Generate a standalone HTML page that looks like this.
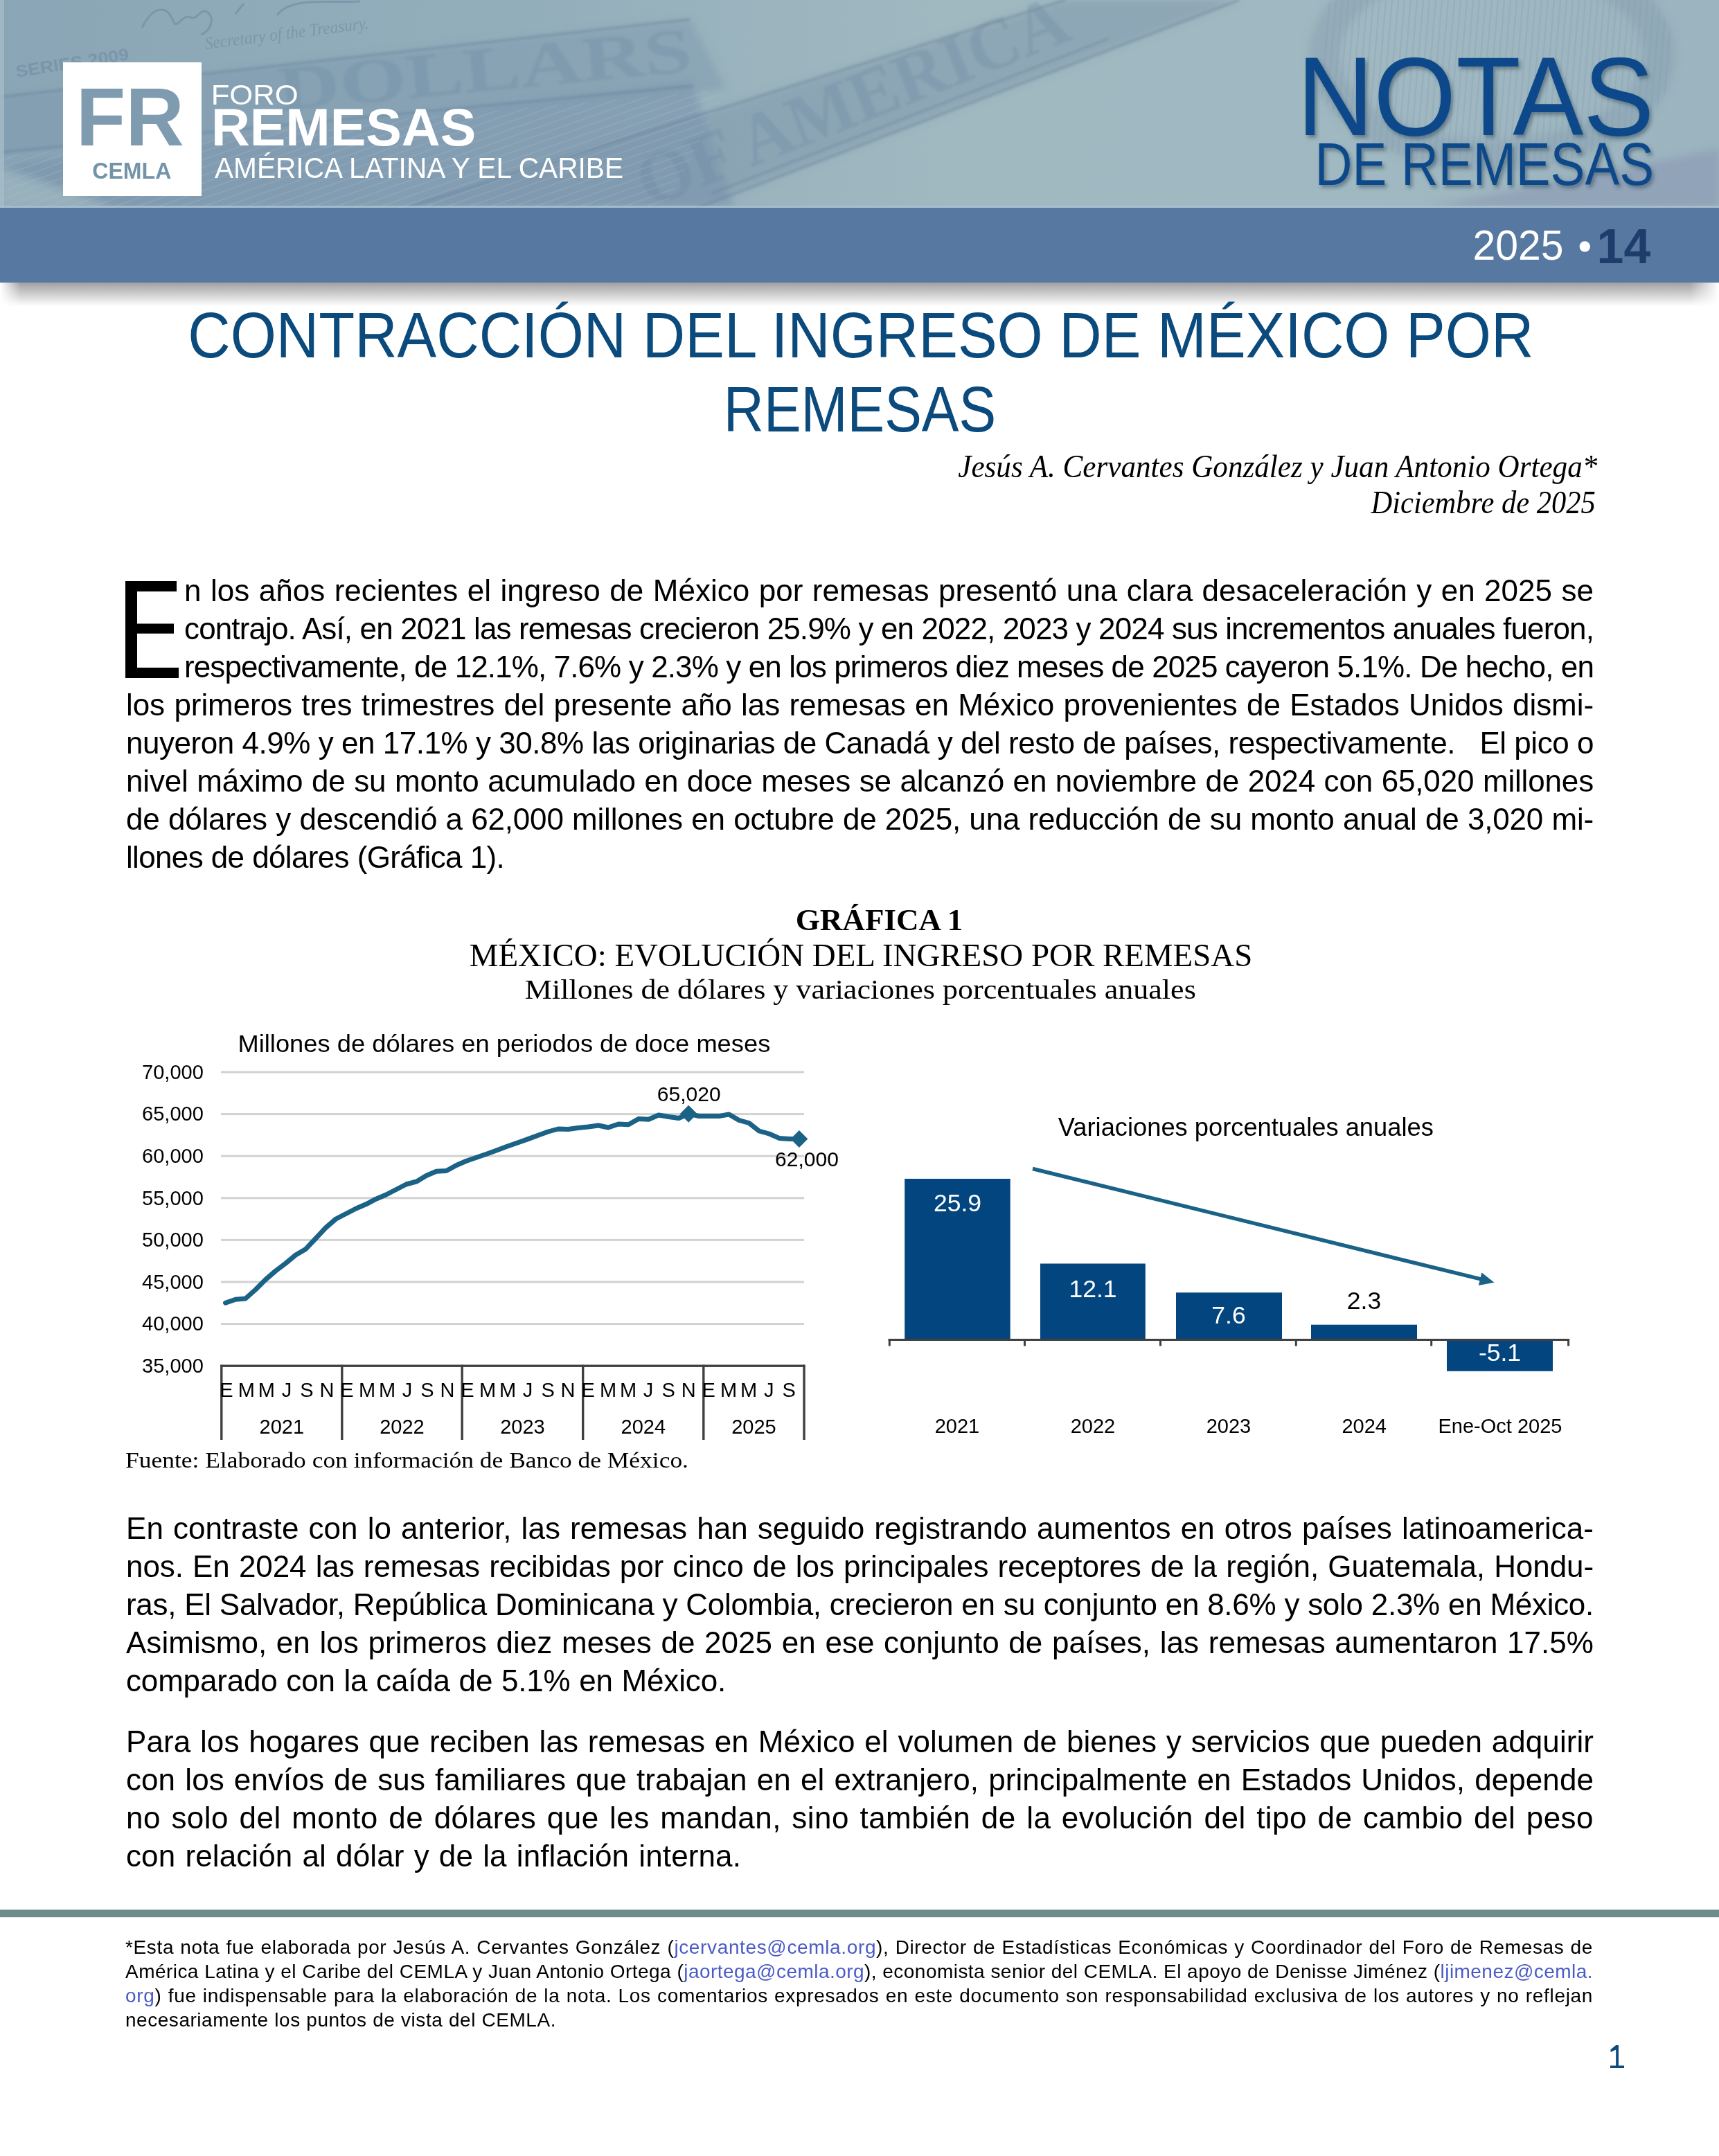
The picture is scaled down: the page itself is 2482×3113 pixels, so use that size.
<!DOCTYPE html>
<html><head><meta charset="utf-8">
<style>
html,body{margin:0;padding:0}
body{width:2482px;height:3113px;position:relative;overflow:hidden;background:#fff;font-family:"Liberation Sans",sans-serif;color:#000}
.a{position:absolute;white-space:nowrap}
.body{position:absolute;font-size:44px;line-height:54.9px;letter-spacing:-0.3px;color:#000}
.body div{text-align:justify;text-align-last:justify;white-space:nowrap;height:54.9px}
.fn{position:absolute;font-size:28px;line-height:35.1px;color:#000}
.fn div{text-align:justify;text-align-last:justify;white-space:nowrap;height:35.1px}
.lk{color:#4a5bc6}
svg text{font-family:"Liberation Sans",sans-serif}
svg text.s{font-family:"Liberation Serif",serif}
</style></head><body>

<svg class="a" style="left:0;top:0" width="2482" height="300" viewBox="0 0 2482 300">
<defs>
<linearGradient id="hg" x1="0" y1="0" x2="1" y2="0">
<stop offset="0" stop-color="#8aa6b6"/>
<stop offset="0.3" stop-color="#93aebb"/>
<stop offset="0.55" stop-color="#a0b8c0"/>
<stop offset="0.8" stop-color="#a0b8c1"/>
<stop offset="1" stop-color="#9bb4bf"/>
</linearGradient>
<filter id="bl" x="-10%" y="-10%" width="120%" height="120%"><feGaussianBlur stdDeviation="6"/></filter>
<filter id="bl2" x="-10%" y="-10%" width="120%" height="120%"><feGaussianBlur stdDeviation="1.5"/></filter>
</defs>
<rect width="2482" height="300" fill="url(#hg)"/>
<g filter="url(#bl)">
<polygon points="0,238 1000,118 1060,300 170,300" fill="#6d88a6" opacity="0.42"/>
<polygon points="0,245 160,300 0,300" fill="#a6bcc4" opacity="0.5"/>
<polygon points="0,140 996,28 1049,129 0,225" fill="#7d97ad" opacity="0.45"/>
<polygon points="586,300 1538,0 1789,0 1007,300" fill="#7b95ab" opacity="0.5"/>
<ellipse cx="2154" cy="80" rx="242" ry="144" fill="none" stroke="#849db0" stroke-width="44" opacity="0.45"/>
<polygon points="2060,300 2482,215 2482,300" fill="#8995b3" opacity="0.55"/>
</g>
<g filter="url(#bl2)" opacity="0.3">
<line x1="0" y1="140" x2="996" y2="28" stroke="#5f7a96" stroke-width="4"/>
<line x1="0" y1="220" x2="1000" y2="124" stroke="#5f7a96" stroke-width="4"/>
<line x1="586" y1="300" x2="1538" y2="0" stroke="#5f7a96" stroke-width="4"/>
<line x1="1007" y1="300" x2="1789" y2="0" stroke="#5f7a96" stroke-width="4"/>
<line x1="1028" y1="279" x2="1600" y2="56" stroke="#5f7a96" stroke-width="3"/>
</g>
<g opacity="0.45">
<path d="M205 40 C220 10 240 5 250 30 C255 45 262 20 275 25 C285 30 290 10 300 18 C310 25 305 45 290 50 M340 20 L352 5 M400 22 C420 -5 470 5 520 2" fill="none" stroke="#66819a" stroke-width="3"/>
<text x="297" y="71" style="font-family:'Liberation Serif',serif;font-style:italic" font-size="25" fill="#66819a" textLength="238" lengthAdjust="spacingAndGlyphs" transform="rotate(-7.2 297 71)">Secretary of the Treasury.</text>
<text x="24" y="112" style="font-family:'Liberation Sans',sans-serif" font-weight="bold" font-size="23" fill="#66819a" textLength="165" lengthAdjust="spacingAndGlyphs" transform="rotate(-9 24 112)">SERIES 2009</text>
</g>
<g opacity="0.28" filter="url(#bl2)">
<text x="937" y="300" style="font-family:'Liberation Serif',serif" font-weight="bold" font-size="105" fill="#6a86a0" textLength="660" lengthAdjust="spacingAndGlyphs" transform="rotate(-21.7 937 300)">OF AMERICA</text>
<text x="404" y="160" style="font-family:'Liberation Serif',serif" font-weight="bold" font-size="90" fill="#6a86a0" textLength="600" lengthAdjust="spacingAndGlyphs" transform="rotate(-5.5 404 160)">DOLLARS</text>
</g>
<clipPath id="rails"><polygon points="0,225 1049,129 960,300 0,300"/></clipPath>
<g clip-path="url(#rails)" stroke="#b5c8d6" stroke-width="2" opacity="0.18">
<line x1="-320" y1="300" x2="530" y2="0" />
<line x1="-288" y1="300" x2="562" y2="0" />
<line x1="-256" y1="300" x2="594" y2="0" />
<line x1="-224" y1="300" x2="626" y2="0" />
<line x1="-192" y1="300" x2="658" y2="0" />
<line x1="-160" y1="300" x2="690" y2="0" />
<line x1="-128" y1="300" x2="722" y2="0" />
<line x1="-96" y1="300" x2="754" y2="0" />
<line x1="-64" y1="300" x2="786" y2="0" />
<line x1="-32" y1="300" x2="818" y2="0" />
<line x1="0" y1="300" x2="850" y2="0" />
<line x1="32" y1="300" x2="882" y2="0" />
<line x1="64" y1="300" x2="914" y2="0" />
<line x1="96" y1="300" x2="946" y2="0" />
<line x1="128" y1="300" x2="978" y2="0" />
<line x1="160" y1="300" x2="1010" y2="0" />
<line x1="192" y1="300" x2="1042" y2="0" />
<line x1="224" y1="300" x2="1074" y2="0" />
<line x1="256" y1="300" x2="1106" y2="0" />
<line x1="288" y1="300" x2="1138" y2="0" />
<line x1="320" y1="300" x2="1170" y2="0" />
<line x1="352" y1="300" x2="1202" y2="0" />
<line x1="384" y1="300" x2="1234" y2="0" />
<line x1="416" y1="300" x2="1266" y2="0" />
<line x1="448" y1="300" x2="1298" y2="0" />
<line x1="480" y1="300" x2="1330" y2="0" />
<line x1="512" y1="300" x2="1362" y2="0" />
<line x1="544" y1="300" x2="1394" y2="0" />
<line x1="576" y1="300" x2="1426" y2="0" />
<line x1="608" y1="300" x2="1458" y2="0" />
<line x1="640" y1="300" x2="1490" y2="0" />
<line x1="672" y1="300" x2="1522" y2="0" />
<line x1="704" y1="300" x2="1554" y2="0" />
<line x1="736" y1="300" x2="1586" y2="0" />
<line x1="768" y1="300" x2="1618" y2="0" />
<line x1="800" y1="300" x2="1650" y2="0" />
<line x1="832" y1="300" x2="1682" y2="0" />
<line x1="864" y1="300" x2="1714" y2="0" />
<line x1="896" y1="300" x2="1746" y2="0" />
<line x1="928" y1="300" x2="1778" y2="0" />
<line x1="960" y1="300" x2="1810" y2="0" />
<line x1="992" y1="300" x2="1842" y2="0" />
<line x1="1024" y1="300" x2="1874" y2="0" />
<line x1="1056" y1="300" x2="1906" y2="0" />
<line x1="1088" y1="300" x2="1938" y2="0" />
<line x1="1120" y1="300" x2="1970" y2="0" />
<line x1="1152" y1="300" x2="2002" y2="0" />
<line x1="1184" y1="300" x2="2034" y2="0" />
<line x1="1216" y1="300" x2="2066" y2="0" />
<line x1="1248" y1="300" x2="2098" y2="0" />
</g>
<clipPath id="ring"><ellipse cx="2154" cy="80" rx="264" ry="166"/></clipPath>
<g stroke="#7f98ae" stroke-width="2.5" opacity="0.22" clip-path="url(#ring)">
<line x1="1920" y1="0" x2="1895" y2="300"/>
<line x1="1929" y1="0" x2="1904" y2="300"/>
<line x1="1938" y1="0" x2="1913" y2="300"/>
<line x1="1947" y1="0" x2="1922" y2="300"/>
<line x1="1956" y1="0" x2="1931" y2="300"/>
<line x1="1965" y1="0" x2="1940" y2="300"/>
<line x1="1974" y1="0" x2="1949" y2="300"/>
<line x1="1983" y1="0" x2="1958" y2="300"/>
<line x1="1992" y1="0" x2="1967" y2="300"/>
<line x1="2001" y1="0" x2="1976" y2="300"/>
<line x1="2010" y1="0" x2="1985" y2="300"/>
<line x1="2019" y1="0" x2="1994" y2="300"/>
<line x1="2028" y1="0" x2="2003" y2="300"/>
<line x1="2037" y1="0" x2="2012" y2="300"/>
<line x1="2046" y1="0" x2="2021" y2="300"/>
<line x1="2055" y1="0" x2="2030" y2="300"/>
<line x1="2064" y1="0" x2="2039" y2="300"/>
<line x1="2073" y1="0" x2="2048" y2="300"/>
<line x1="2082" y1="0" x2="2057" y2="300"/>
<line x1="2091" y1="0" x2="2066" y2="300"/>
<line x1="2100" y1="0" x2="2075" y2="300"/>
<line x1="2109" y1="0" x2="2084" y2="300"/>
<line x1="2118" y1="0" x2="2093" y2="300"/>
<line x1="2127" y1="0" x2="2102" y2="300"/>
<line x1="2136" y1="0" x2="2111" y2="300"/>
<line x1="2145" y1="0" x2="2120" y2="300"/>
<line x1="2154" y1="0" x2="2129" y2="300"/>
<line x1="2163" y1="0" x2="2138" y2="300"/>
<line x1="2172" y1="0" x2="2147" y2="300"/>
<line x1="2181" y1="0" x2="2156" y2="300"/>
<line x1="2190" y1="0" x2="2165" y2="300"/>
<line x1="2199" y1="0" x2="2174" y2="300"/>
<line x1="2208" y1="0" x2="2183" y2="300"/>
<line x1="2217" y1="0" x2="2192" y2="300"/>
<line x1="2226" y1="0" x2="2201" y2="300"/>
<line x1="2235" y1="0" x2="2210" y2="300"/>
<line x1="2244" y1="0" x2="2219" y2="300"/>
<line x1="2253" y1="0" x2="2228" y2="300"/>
<line x1="2262" y1="0" x2="2237" y2="300"/>
<line x1="2271" y1="0" x2="2246" y2="300"/>
<line x1="2280" y1="0" x2="2255" y2="300"/>
<line x1="2289" y1="0" x2="2264" y2="300"/>
<line x1="2298" y1="0" x2="2273" y2="300"/>
<line x1="2307" y1="0" x2="2282" y2="300"/>
<line x1="2316" y1="0" x2="2291" y2="300"/>
<line x1="2325" y1="0" x2="2300" y2="300"/>
<line x1="2334" y1="0" x2="2309" y2="300"/>
<line x1="2343" y1="0" x2="2318" y2="300"/>
<line x1="2352" y1="0" x2="2327" y2="300"/>
<line x1="2361" y1="0" x2="2336" y2="300"/>
<line x1="2370" y1="0" x2="2345" y2="300"/>
<line x1="2379" y1="0" x2="2354" y2="300"/>
<line x1="2388" y1="0" x2="2363" y2="300"/>
<line x1="2397" y1="0" x2="2372" y2="300"/>
<line x1="2406" y1="0" x2="2381" y2="300"/>
<line x1="2415" y1="0" x2="2390" y2="300"/>
</g>
<rect x="0" y="0" width="6" height="300" fill="#a9bfcc" opacity="0.7"/>
</svg>

<div class="a" style="left:0;top:300px;width:2482px;height:108px;background:#5779a1"></div>
<div class="a" style="left:0;top:408px;width:2482px;height:34px;background:linear-gradient(rgba(150,150,150,0.9),rgba(255,255,255,0))"></div>
<div class="a" style="left:0;top:408px;width:30px;height:34px;background:linear-gradient(90deg,#fff,rgba(255,255,255,0))"></div>
<div class="a" style="left:0;top:297px;width:2482px;height:3px;background:#a9c1d1;opacity:0.8"></div>
<div class="a" style="left:2440px;top:408px;width:42px;height:34px;background:linear-gradient(90deg,rgba(255,255,255,0),#fff)"></div>
<div class="a" style="left:91px;top:90px;width:200px;height:193px;background:#fff"></div>
<svg class="a" style="left:0;top:0" width="2482" height="3113" viewBox="0 0 2482 3113">
<defs><filter id="sh" x="-5%" y="-5%" width="110%" height="120%"><feDropShadow dx="3" dy="4" stdDeviation="2.5" flood-color="#27384a" flood-opacity="0.45"/></filter></defs>
<text x="109.7" y="210.0" font-size="118.0" fill="#7f9bb0" textLength="156.0" lengthAdjust="spacingAndGlyphs" font-weight="bold">FR</text>
<text x="133.3" y="258.0" font-size="33.4" fill="#7393a8" textLength="114.0" lengthAdjust="spacingAndGlyphs" font-weight="bold">CEMLA</text>
<text x="304.7" y="150.5" font-size="41.4" fill="#fff" textLength="126.0" lengthAdjust="spacingAndGlyphs">FORO</text>
<text x="304.9" y="210.0" font-size="75.6" fill="#fff" textLength="382.4" lengthAdjust="spacingAndGlyphs" font-weight="bold">REMESAS</text>
<text x="310.0" y="257.0" font-size="42.0" fill="#fff" textLength="590.0" lengthAdjust="spacingAndGlyphs">AMÉRICA LATINA Y EL CARIBE</text>
<g filter="url(#sh)">
<text x="1872.8" y="195.0" font-size="161.0" fill="#0e4a8a" textLength="515.6" lengthAdjust="spacingAndGlyphs">NOTAS</text>
<text x="1898.5" y="266.8" font-size="87.0" fill="#0e4a8a" textLength="489.5" lengthAdjust="spacingAndGlyphs">DE REMESAS</text>
</g>
<text x="2126.6" y="375.4" font-size="60.7" fill="#fff" textLength="131.0" lengthAdjust="spacingAndGlyphs">2025</text>
<circle cx="2288.3" cy="356" r="7.7" fill="#fff"/>
<text x="2305.6" y="380.0" font-size="70.0" fill="#1e3d6b" textLength="77.8" lengthAdjust="spacingAndGlyphs" font-weight="bold">14</text>
<text x="271.3" y="515.8" font-size="93.0" fill="#0b4a7c" textLength="1943.0" lengthAdjust="spacingAndGlyphs">CONTRACCIÓN DEL INGRESO DE MÉXICO POR</text>
<text x="1044.8" y="623.0" font-size="93.0" fill="#0b4a7c" textLength="393.3" lengthAdjust="spacingAndGlyphs">REMESAS</text>
<text x="1383.3" y="689.3" font-size="46.0" fill="#000" textLength="923.0" lengthAdjust="spacingAndGlyphs" class="s" font-style="italic">Jesús A. Cervantes González y Juan Antonio Ortega*</text>
<text x="1979.5" y="740.7" font-size="46.0" fill="#000" textLength="324.4" lengthAdjust="spacingAndGlyphs" class="s" font-style="italic">Diciembre de 2025</text>
<path d="M181 839H255V854H198V900.4H251V914.7H198V964H258V979H181Z" fill="#000"/>
<text x="1148.8" y="1342.8" font-size="45.0" fill="#000" textLength="241.5" lengthAdjust="spacingAndGlyphs" font-weight="bold" class="s">GRÁFICA 1</text>
<text x="677.7" y="1395.0" font-size="45.8" fill="#000" textLength="1130.6" lengthAdjust="spacingAndGlyphs" class="s">MÉXICO: EVOLUCIÓN DEL INGRESO POR REMESAS</text>
<text x="757.8" y="1442.4" font-size="39.7" fill="#000" textLength="969.0" lengthAdjust="spacingAndGlyphs" class="s">Millones de dólares y variaciones porcentuales anuales</text>
<text x="343.5" y="1518.5" font-size="35.0" fill="#000" textLength="768.8" lengthAdjust="spacingAndGlyphs">Millones de dólares en periodos de doce meses</text>
<text x="293.8" y="1557.7" font-size="29.0" fill="#000" text-anchor="end">70,000</text>
<text x="293.8" y="1618.3" font-size="29.0" fill="#000" text-anchor="end">65,000</text>
<text x="293.8" y="1678.9" font-size="29.0" fill="#000" text-anchor="end">60,000</text>
<text x="293.8" y="1739.5" font-size="29.0" fill="#000" text-anchor="end">55,000</text>
<text x="293.8" y="1800.1" font-size="29.0" fill="#000" text-anchor="end">50,000</text>
<text x="293.8" y="1860.7" font-size="29.0" fill="#000" text-anchor="end">45,000</text>
<text x="293.8" y="1921.3" font-size="29.0" fill="#000" text-anchor="end">40,000</text>
<text x="293.8" y="1981.9" font-size="29.0" fill="#000" text-anchor="end">35,000</text>
<rect x="319" y="1546.5" width="842" height="3" fill="#d2d2d2"/>
<rect x="319" y="1607.1" width="842" height="3" fill="#d2d2d2"/>
<rect x="319" y="1667.7" width="842" height="3" fill="#d2d2d2"/>
<rect x="319" y="1728.3" width="842" height="3" fill="#d2d2d2"/>
<rect x="319" y="1788.9" width="842" height="3" fill="#d2d2d2"/>
<rect x="319" y="1849.5" width="842" height="3" fill="#d2d2d2"/>
<rect x="319" y="1910.1" width="842" height="3" fill="#d2d2d2"/>
<rect x="318.5" y="1970.5" width="844" height="3.4" fill="#404040"/>
<rect x="318.1" y="1970.7" width="3.4" height="108.3" fill="#404040"/>
<rect x="492.1" y="1970.7" width="3.4" height="108.3" fill="#404040"/>
<rect x="665.5" y="1970.7" width="3.4" height="108.3" fill="#404040"/>
<rect x="840.0" y="1970.7" width="3.4" height="108.3" fill="#404040"/>
<rect x="1014.1" y="1970.7" width="3.4" height="108.3" fill="#404040"/>
<rect x="1159.3" y="1970.7" width="3.4" height="108.3" fill="#404040"/>
<text x="326.9" y="2016.8" font-size="29.0" fill="#000" text-anchor="middle">E</text>
<text x="355.9" y="2016.8" font-size="29.0" fill="#000" text-anchor="middle">M</text>
<text x="384.9" y="2016.8" font-size="29.0" fill="#000" text-anchor="middle">M</text>
<text x="413.9" y="2016.8" font-size="29.0" fill="#000" text-anchor="middle">J</text>
<text x="442.9" y="2016.8" font-size="29.0" fill="#000" text-anchor="middle">S</text>
<text x="471.9" y="2016.8" font-size="29.0" fill="#000" text-anchor="middle">N</text>
<text x="500.9" y="2016.8" font-size="29.0" fill="#000" text-anchor="middle">E</text>
<text x="530.0" y="2016.8" font-size="29.0" fill="#000" text-anchor="middle">M</text>
<text x="559.0" y="2016.8" font-size="29.0" fill="#000" text-anchor="middle">M</text>
<text x="588.0" y="2016.8" font-size="29.0" fill="#000" text-anchor="middle">J</text>
<text x="617.0" y="2016.8" font-size="29.0" fill="#000" text-anchor="middle">S</text>
<text x="646.0" y="2016.8" font-size="29.0" fill="#000" text-anchor="middle">N</text>
<text x="675.0" y="2016.8" font-size="29.0" fill="#000" text-anchor="middle">E</text>
<text x="704.0" y="2016.8" font-size="29.0" fill="#000" text-anchor="middle">M</text>
<text x="733.0" y="2016.8" font-size="29.0" fill="#000" text-anchor="middle">M</text>
<text x="762.1" y="2016.8" font-size="29.0" fill="#000" text-anchor="middle">J</text>
<text x="791.1" y="2016.8" font-size="29.0" fill="#000" text-anchor="middle">S</text>
<text x="820.1" y="2016.8" font-size="29.0" fill="#000" text-anchor="middle">N</text>
<text x="849.1" y="2016.8" font-size="29.0" fill="#000" text-anchor="middle">E</text>
<text x="878.1" y="2016.8" font-size="29.0" fill="#000" text-anchor="middle">M</text>
<text x="907.1" y="2016.8" font-size="29.0" fill="#000" text-anchor="middle">M</text>
<text x="936.1" y="2016.8" font-size="29.0" fill="#000" text-anchor="middle">J</text>
<text x="965.2" y="2016.8" font-size="29.0" fill="#000" text-anchor="middle">S</text>
<text x="994.2" y="2016.8" font-size="29.0" fill="#000" text-anchor="middle">N</text>
<text x="1023.2" y="2016.8" font-size="29.0" fill="#000" text-anchor="middle">E</text>
<text x="1052.2" y="2016.8" font-size="29.0" fill="#000" text-anchor="middle">M</text>
<text x="1081.2" y="2016.8" font-size="29.0" fill="#000" text-anchor="middle">M</text>
<text x="1110.2" y="2016.8" font-size="29.0" fill="#000" text-anchor="middle">J</text>
<text x="1139.2" y="2016.8" font-size="29.0" fill="#000" text-anchor="middle">S</text>
<text x="406.8" y="2069.8" font-size="29.0" fill="#000" text-anchor="middle">2021</text>
<text x="580.5" y="2069.8" font-size="29.0" fill="#000" text-anchor="middle">2022</text>
<text x="754.5" y="2069.8" font-size="29.0" fill="#000" text-anchor="middle">2023</text>
<text x="928.8" y="2069.8" font-size="29.0" fill="#000" text-anchor="middle">2024</text>
<text x="1088.4" y="2069.8" font-size="29.0" fill="#000" text-anchor="middle">2025</text>
<polyline points="325.5,1881.2 340.0,1876.2 354.5,1875.0 369.0,1862.0 383.5,1847.5 398.0,1835.0 412.5,1824.0 427.0,1812.0 441.5,1803.4 456.0,1788.0 470.5,1772.5 485.0,1760.0 499.5,1752.5 514.0,1745.0 528.5,1738.8 543.0,1731.2 557.5,1725.0 572.0,1717.5 586.5,1710.0 601.0,1706.2 615.5,1697.5 630.0,1691.2 644.5,1690.5 659.0,1682.5 673.5,1676.2 688.0,1671.2 702.5,1666.2 717.0,1661.0 731.5,1655.5 748.0,1649.8 762.5,1644.6 777.0,1639.3 791.5,1634.0 806.0,1630.0 820.2,1630.5 835.0,1628.5 849.5,1627.0 864.0,1625.0 878.2,1628.0 893.0,1623.0 907.5,1623.8 922.0,1615.5 936.5,1616.2 951.0,1610.0 965.5,1612.5 980.0,1614.5 994.5,1608.2 1009.0,1611.5 1023.2,1611.6 1038.0,1611.6 1052.5,1609.0 1067.0,1617.5 1081.5,1621.5 1096.0,1633.0 1110.5,1637.0 1125.0,1643.4 1139.5,1644.4 1154.0,1644.5" fill="none" stroke="#1b6287" stroke-width="7" stroke-linejoin="round" stroke-linecap="round"/>
<polygon points="994.2,1595.8 1006.7,1608.3 994.2,1620.8 981.7,1608.3" fill="#1b6287"/>
<polygon points="1153.9,1632.0 1166.4,1644.5 1153.9,1657.0 1141.4,1644.5" fill="#1b6287"/>
<text x="994.7" y="1589.6" font-size="30.0" fill="#000" text-anchor="middle">65,020</text>
<text x="1165.0" y="1683.7" font-size="30.0" fill="#000" text-anchor="middle">62,000</text>
<text x="181.0" y="2118.7" font-size="31.0" fill="#000" textLength="813.0" lengthAdjust="spacingAndGlyphs" class="s">Fuente: Elaborado con información de Banco de México.</text>
<text x="1527.8" y="1640.0" font-size="36.0" fill="#000" textLength="542.0" lengthAdjust="spacingAndGlyphs">Variaciones porcentuales anuales</text>
<rect x="1306.2" y="1702.0" width="152.5" height="232.5" fill="#03457f"/>
<rect x="1502.0" y="1824.5" width="151.8" height="110.0" fill="#03457f"/>
<rect x="1698.0" y="1866.3" width="153.0" height="68.2" fill="#03457f"/>
<rect x="1893.0" y="1912.7" width="153.0" height="21.8" fill="#03457f"/>
<rect x="2089.0" y="1934.5" width="153.0" height="45.3" fill="#03457f"/>
<rect x="1282.6" y="1933" width="983.5" height="3" fill="#404040"/>
<rect x="1282.8" y="1933" width="3" height="10.5" fill="#404040"/>
<rect x="1478.0" y="1933" width="3" height="10.5" fill="#404040"/>
<rect x="1674.0" y="1933" width="3" height="10.5" fill="#404040"/>
<rect x="1869.8" y="1933" width="3" height="10.5" fill="#404040"/>
<rect x="2065.2" y="1933" width="3" height="10.5" fill="#404040"/>
<rect x="2263.1" y="1933" width="3" height="10.5" fill="#404040"/>
<text x="1382.5" y="1748.8" font-size="35.5" fill="#fff" text-anchor="middle">25.9</text>
<text x="1578.0" y="1872.5" font-size="35.5" fill="#fff" text-anchor="middle">12.1</text>
<text x="1774.0" y="1911.0" font-size="35.5" fill="#fff" text-anchor="middle">7.6</text>
<text x="1969.5" y="1890.0" font-size="35.5" fill="#000" text-anchor="middle">2.3</text>
<text x="2165.5" y="1964.7" font-size="35.5" fill="#fff" text-anchor="middle">-5.1</text>
<text x="1382.0" y="2068.5" font-size="29.0" fill="#000" text-anchor="middle">2021</text>
<text x="1578.0" y="2068.5" font-size="29.0" fill="#000" text-anchor="middle">2022</text>
<text x="1774.0" y="2068.5" font-size="29.0" fill="#000" text-anchor="middle">2023</text>
<text x="1969.7" y="2068.5" font-size="29.0" fill="#000" text-anchor="middle">2024</text>
<text x="2166.0" y="2068.5" font-size="29.0" fill="#000" text-anchor="middle">Ene-Oct 2025</text>
<line x1="1491.0" y1="1687.5" x2="2139.1" y2="1847.2" stroke="#1b6287" stroke-width="5.5"/>
<polygon points="2157.5,1851.7 2134.8,1855.9 2139.4,1837.5" fill="#1b6287"/>
<rect x="0" y="2757.4" width="2482" height="10.8" fill="#6f8a8a"/>
<path d="M2333.2 2953H2337V2982.5H2345V2986H2325V2982.5H2333.2V2959.5L2325.5 2963V2959.2Z" fill="#0b4a7c"/>
</svg>
<div class="body" style="left:182.0px;top:826.3px;width:2119.0px">
<div style="margin-left:84.0px;width:2035.0px;letter-spacing:0.006px">n los años recientes el ingreso de México por remesas presentó una clara desaceleración y en 2025 se</div>
<div style="margin-left:84.0px;width:2035.0px;letter-spacing:-0.872px">contrajo. Así, en 2021 las remesas crecieron 25.9% y en 2022, 2023 y 2024 sus incrementos anuales fueron,</div>
<div style="margin-left:84.0px;width:2035.0px;letter-spacing:-0.896px">respectivamente, de 12.1%, 7.6% y 2.3% y en los primeros diez meses de 2025 cayeron 5.1%. De hecho, en</div>
<div style="width:2119.0px;letter-spacing:-0.063px">los primeros tres trimestres del presente año las remesas en México provenientes de Estados Unidos dismi-</div>
<div style="width:2119.0px;letter-spacing:-0.472px">nuyeron 4.9% y en 17.1% y 30.8% las originarias de Canadá y del resto de países, respectivamente.&nbsp;&nbsp; El pico o</div>
<div style="width:2119.0px;letter-spacing:-0.165px">nivel máximo de su monto acumulado en doce meses se alcanzó en noviembre de 2024 con 65,020 millones</div>
<div style="width:2119.0px;letter-spacing:-0.206px">de dólares y descendió a 62,000 millones en octubre de 2025, una reducción de su monto anual de 3,020 mi-</div>
<div style="width:546.0px;letter-spacing:-0.665px">llones de dólares (Gráfica 1).</div>
</div>
<div class="body" style="left:182.0px;top:2180.1px;width:2119.0px">
<div style="width:2119.0px;letter-spacing:0.047px">En contraste con lo anterior, las remesas han seguido registrando aumentos en otros países latinoamerica-</div>
<div style="width:2119.0px;letter-spacing:-0.079px">nos. En 2024 las remesas recibidas por cinco de los principales receptores de la región, Guatemala, Hondu-</div>
<div style="width:2119.0px;letter-spacing:-0.286px">ras, El Salvador, República Dominicana y Colombia, crecieron en su conjunto en 8.6% y solo 2.3% en México.</div>
<div style="width:2119.0px;letter-spacing:0.027px">Asimismo, en los primeros diez meses de 2025 en ese conjunto de países, las remesas aumentaron 17.5%</div>
<div style="width:866.0px;letter-spacing:-0.168px">comparado con la caída de 5.1% en México.</div>
</div>
<div class="body" style="left:182.0px;top:2488.2px;width:2119.0px">
<div style="width:2119.0px;letter-spacing:0.065px">Para los hogares que reciben las remesas en México el volumen de bienes y servicios que pueden adquirir</div>
<div style="width:2119.0px;letter-spacing:0.075px">con los envíos de sus familiares que trabajan en el extranjero, principalmente en Estados Unidos, depende</div>
<div style="width:2119.0px;letter-spacing:0.474px">no solo del monto de dólares que les mandan, sino también de la evolución del tipo de cambio del peso</div>
<div style="width:888.0px;letter-spacing:0.114px">con relación al dólar y de la inflación interna.</div>
</div>
<div class="fn" style="left:181px;top:2794.1px;width:2119px;letter-spacing:0.50px">
<div style="width:2119.0px;letter-spacing:0.637px">*Esta nota fue elaborada por Jesús A. Cervantes González (<span class="lk">jcervantes@cemla.org</span>), Director de Estadísticas Económicas y Coordinador del Foro de Remesas de</div>
<div style="width:2119.0px;letter-spacing:0.459px">América Latina y el Caribe del CEMLA y Juan Antonio Ortega (<span class="lk">jaortega@cemla.org</span>), economista senior del CEMLA. El apoyo de Denisse Jiménez (<span class="lk">ljimenez@cemla.</span></div>
<div style="width:2119.0px;letter-spacing:0.665px"><span class="lk">org</span>) fue indispensable para la elaboración de la nota. Los comentarios expresados en este documento son responsabilidad exclusiva de los autores y no reflejan</div>
<div style="width:622.0px;letter-spacing:0.532px">necesariamente los puntos de vista del CEMLA.</div>
</div>
</body></html>
